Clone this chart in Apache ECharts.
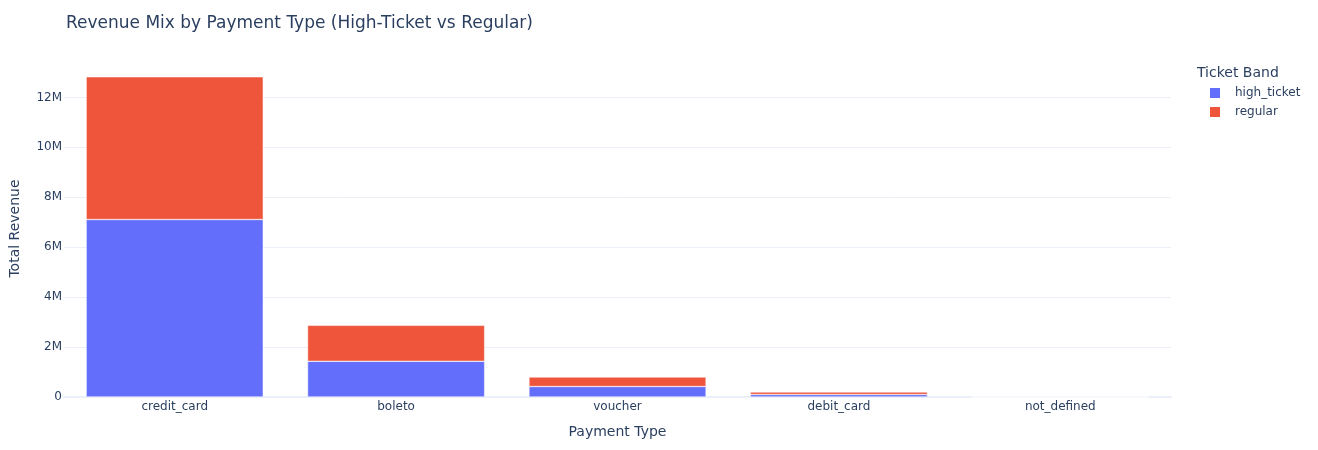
<!DOCTYPE html>
<html>
<head>
<meta charset="utf-8">
<script src="https://cdn.jsdelivr.net/npm/echarts@6/dist/echarts.min.js"></script>
<style>html,body{margin:0;padding:0;background:#fff}#chart{width:1318px;height:450px}</style>
</head>
<body>
<div id="chart"></div>
<script>
const paymentTypes = ['credit_card', 'boleto', 'voucher', 'debit_card', 'not_defined'];
const highTicket = [7110000, 1430000, 420000, 100000, 0];
const regular = [5720000, 1440000, 380000, 100000, 0];
const bandNames = ['high_ticket', 'regular'];

const font = '"DejaVu Sans", Verdana, sans-serif';
const ink = '#2a3f5f';
const grid = '#ebf0f8';
const fmtM = v => v === 0 ? '0' : (v / 1e6) + 'M';

const chart = echarts.init(document.getElementById('chart'));
chart.setOption({
  animation: false,
  backgroundColor: '#fff',
  textStyle: {fontFamily: font, color: ink},
  title: [
    {text: 'Revenue Mix by Payment Type (High-Ticket vs Regular)', left: 61, top: 10,
      textStyle: {fontFamily: font, fontSize: 17, fontWeight: 'normal', color: ink}},
    {text: 'Ticket Band', left: 1192, top: 61,
      textStyle: {fontFamily: font, fontSize: 14, fontWeight: 'normal', color: ink}}
  ],
  legend: {
    orient: 'vertical', left: 1203, top: 81, icon: 'rect',
    itemWidth: 12, itemHeight: 12, itemGap: 5,
    textStyle: {fontFamily: font, fontSize: 12, color: ink, padding: [0, 0, 0, 9]},
    data: bandNames
  },
  grid: {left: 63, right: 147, top: 60, bottom: 53},
  xAxis: {
    type: 'category', data: paymentTypes,
    name: 'Payment Type', nameLocation: 'middle', nameGap: 28,
    nameTextStyle: {fontFamily: font, fontSize: 14, color: ink},
    axisLine: {show: true, lineStyle: {color: grid, width: 2}},
    axisTick: {show: false},
    axisLabel: {fontFamily: font, fontSize: 12, color: ink, margin: 4}
  },
  yAxis: {
    type: 'value', min: 0, max: 13500000, interval: 2000000,
    name: 'Total Revenue', nameLocation: 'middle', nameGap: 42,
    nameTextStyle: {fontFamily: font, fontSize: 14, color: ink},
    axisLine: {show: false}, axisTick: {show: false},
    axisLabel: {fontFamily: font, fontSize: 12, color: ink, margin: 2, formatter: fmtM, showMaxLabel: false},
    splitLine: {show: true, showMaxLine: false, lineStyle: {color: grid, width: 1}}
  },
  series: [
    {name: bandNames[0], type: 'bar', stack: 'rev', data: highTicket, barWidth: '80%',
      itemStyle: {color: '#636efa', borderColor: '#fff', borderWidth: 0.5}},
    {name: bandNames[1], type: 'bar', stack: 'rev', data: regular, barWidth: '80%',
      itemStyle: {color: '#ef553b', borderColor: '#fff', borderWidth: 0.5}}
  ]
});
</script>
</body>
</html>
